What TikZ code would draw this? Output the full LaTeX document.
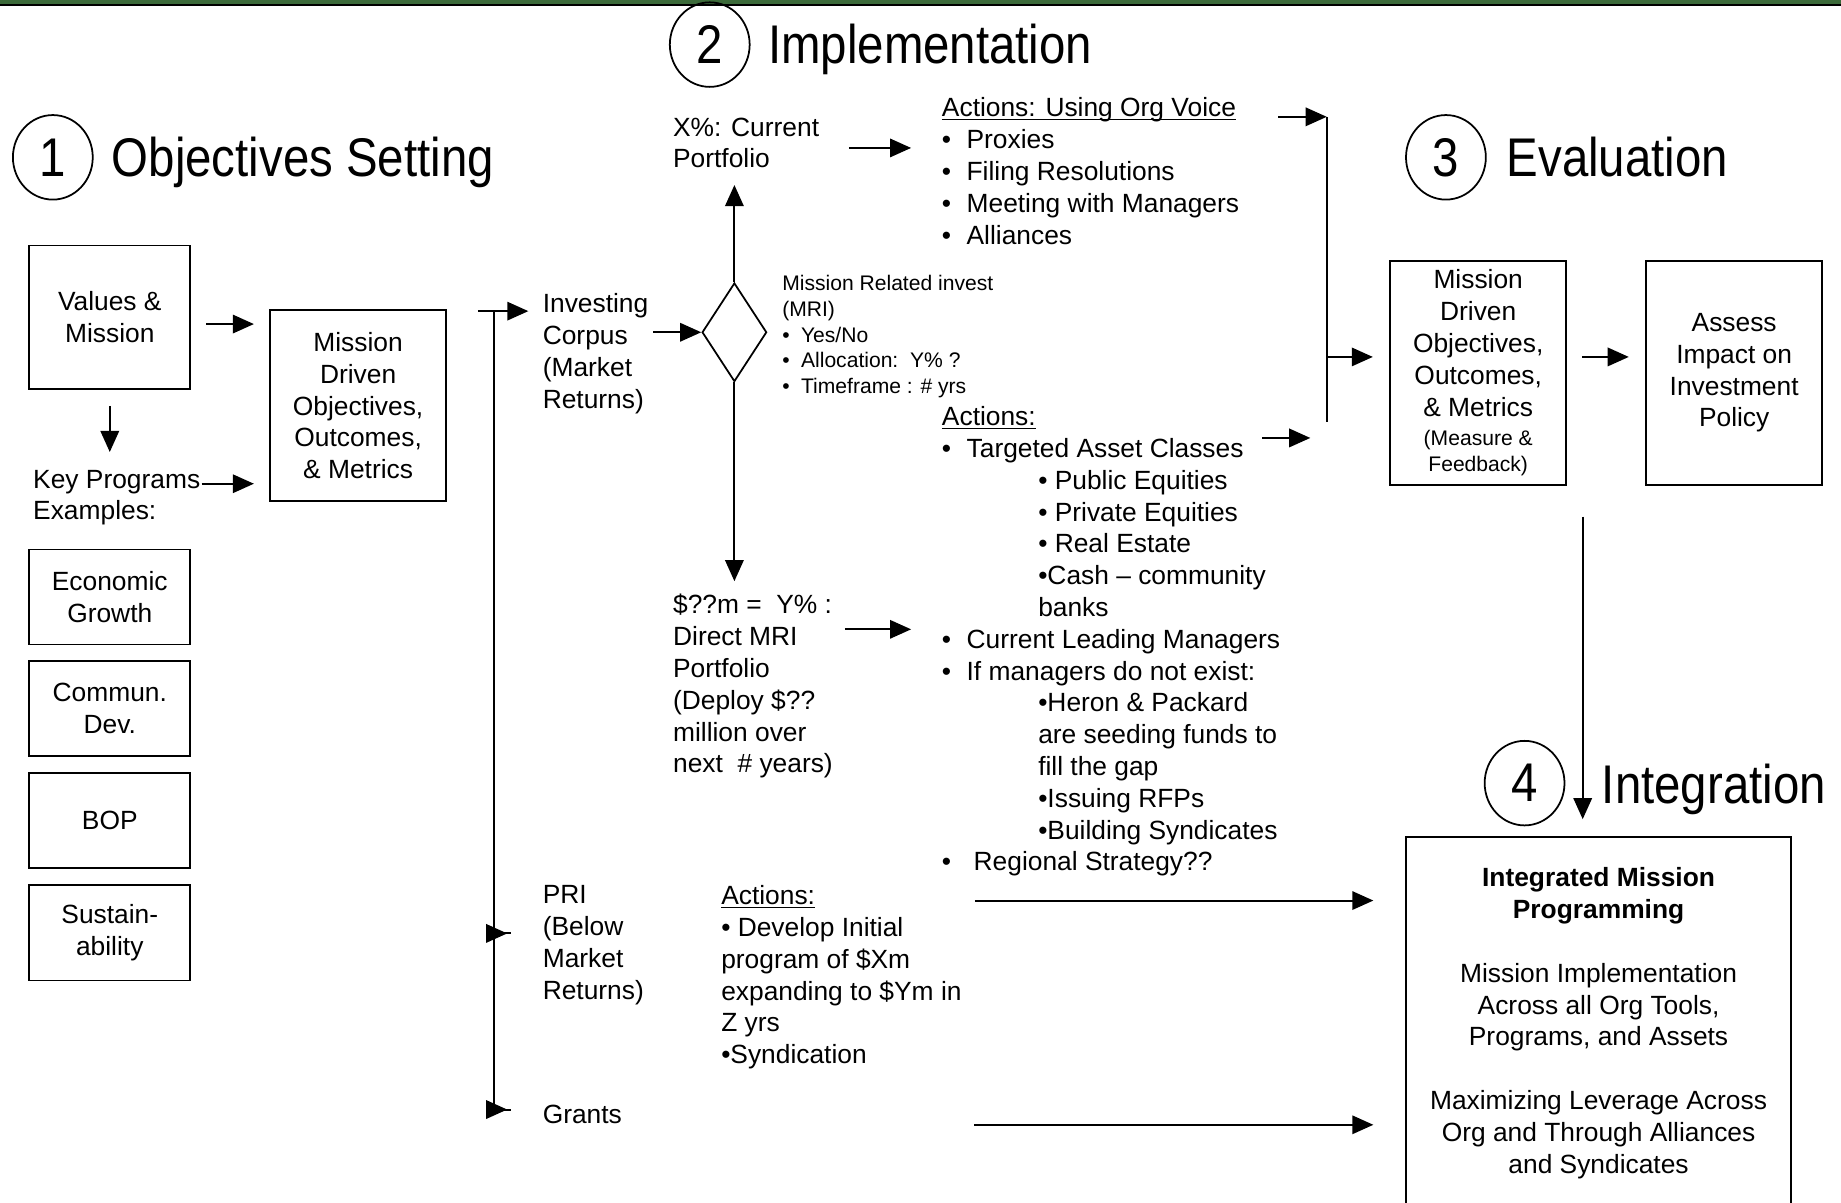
\documentclass[tikz,border=0pt]{standalone}
\usepackage{fontspec}
\setmainfont{Liberation Sans}
\usepackage{graphicx}
\usetikzlibrary{arrows.meta, shapes.geometric}

\newlength{\pxu}
\setlength{\pxu}{0.02348cm}
\definecolor{bargreen}{RGB}{60,106,58}
\newcommand{\bodyf}{\fontsize{15}{18.1}\selectfont}
\newcommand{\smallf}{\fontsize{12}{14.6}\selectfont}
\newcommand{\titlef}{\fontsize{31}{36}\selectfont}
\newcommand{\squash}[1]{\scalebox{0.87}[1]{#1}}
\newcommand{\ulin}[1]{\underline{\raisebox{0pt}[\height][0pt]{#1}}}
\newcommand{\blt}[1]{\makebox[#1\pxu][l]{•}}

\begin{document}
\begin{tikzpicture}[x=0.02348cm, y=-0.02348cm,
  box/.style={draw, line width=1pt, align=center, font=\bodyf, inner sep=0pt},
  txt/.style={align=left, font=\bodyf, inner sep=0pt, anchor=north west},
  stxt/.style={align=left, font=\smallf, inner sep=0pt, anchor=north west},
  numc/.style={draw, ellipse, line width=1pt, minimum width=68\pxu,
    minimum height=72\pxu, inner sep=0pt, font=\titlef},
  ttl/.style={font=\titlef, anchor=base west, inner sep=0pt},
  arr/.style={-{Triangle[length=12pt, width=10.5pt]}, line width=1.1pt},
  gap/.style 2 args={shorten <=#1\pxu, shorten >=#2\pxu}]
  \useasboundingbox (0,0) rectangle (1568,1024);
  % top bar
  \fill[bargreen] (0,0) rectangle (1568,3.6);
  \draw[line width=1pt] (0,4.3) -- (1568,4.3);
  % ---------- headings ----------
  \node[numc] (num1) at (45,134) {\squash{1}};
  \node[ttl] (ttl1) at (95,150) {\squash{Objectives Setting}};
  \node[numc] (num2) at (604.5,38) {\squash{2}};
  \node[ttl] (ttl2) at (654,54) {\squash{Implementation}};
  \node[numc] (num3) at (1231.5,134) {\squash{3}};
  \node[ttl] (ttl3) at (1283,150) {\squash{Evaluation}};
  \node[numc] (num4) at (1298.5,667) {\squash{4}};
  \node[ttl] (ttl4) at (1364,684) {\squash{Integration}};
  % ---------- 1: objectives ----------
  \node[box, minimum width=137\pxu, minimum height=122\pxu] (vm)
    at (93.5,270) {Values \&\\Mission};
  \node[box, minimum width=150\pxu, minimum height=163\pxu] (mdo)
    at (305,345.5) {Mission\\Driven\\Objectives,\\Outcomes,\\\& Metrics};
  \node[txt] (keyp) at (28,400) {Key Programs\\Examples:};
  \foreach \y/\nm/\lbl in {508.5/econ/{Economic\\Growth}, 603.5/comm/{Commun.\\Dev.},
      699/bop/BOP, 794.5/sust/{Sustain-\\ability}}
    \node[box, minimum width=137\pxu, minimum height=81\pxu] (\nm) at (93.5,\y) {\lbl};
  \draw[arr, gap={13}{13}] (vm.east |- 0,276) -- (mdo.west |- 0,276);
  \draw[arr, gap={14}{15}] (vm.south) -- (vm.south |- keyp.north);
  \draw[arr, gap={1}{13}] (keyp.east |- 0,412) -- (mdo.west |- 0,412);
  % ---------- 2: implementation ----------
  \coordinate (sp1) at (421,265);
  \coordinate (sp2) at (421,795);
  \coordinate (sp3) at (421,945);
  \draw[line width=1.1pt] (sp1) -- (sp3);
  \node[txt] (corpus) at (462,250) {Investing\\Corpus\\(Market\\Returns)};
  \node[txt] (pri) at (462,754) {PRI\\(Below\\Market\\Returns)};
  \node[txt] (grants) at (462,941) {Grants};
  \draw[arr, gap={-14}{12}] (sp1) -- (sp1 -| corpus.west);
  \draw[arr, gap={-14}{30}] (sp2) -- (sp2 -| pri.west);
  \draw[arr, gap={-14}{30}] (sp3) -- (sp3 -| grants.west);

  \node[draw, diamond, line width=1pt, minimum width=55\pxu, minimum height=84\pxu,
    inner sep=0pt] (dia) at (625.5,283) {};
  \draw[arr, gap={4}{0}] (corpus.east |- dia.west) -- (dia.west);
  \node[txt] (curr) at (573,100) {X\%: Current\\Portfolio};
  \node[txt] (direct) at (573,506)
    {\$??m =\ \ Y\% :\\Direct MRI\\Portfolio\\(Deploy \$??\\million over\\next\ \ \# years)};
  \draw[arr, gap={0}{14}] (dia.north) -- (dia.north |- curr.south);
  \draw[arr, gap={0}{11}] (dia.south) -- (dia.south |- direct.north);
  \node[stxt] (mri) at (666,234.5) {Mission Related invest\\(MRI)\\\blt{16}Yes/No\\
    \blt{16}Allocation:\ \ Y\% ?\\\blt{16}Timeframe : \# yrs};

  \node[txt] (voice) at (802,83) {\ulin{Actions: Using Org Voice}\\\blt{21}Proxies\\
    \blt{21}Filing Resolutions\\\blt{21}Meeting with Managers\\\blt{21}Alliances};
  \draw[arr, gap={25}{26}] (curr.east |- 0,126) -- (voice.west |- 0,126);

  \node[txt] (acts) at (802,346) {\ulin{Actions:}\\
    \blt{21}Targeted Asset Classes\\
    \hspace*{82\pxu}• Public Equities\\
    \hspace*{82\pxu}• Private Equities\\
    \hspace*{82\pxu}• Real Estate\\
    \hspace*{82\pxu}•Cash – community\\
    \hspace*{82\pxu}banks\\
    \blt{21}Current Leading Managers\\
    \blt{21}If managers do not exist:\\
    \hspace*{82\pxu}•Heron \& Packard\\
    \hspace*{82\pxu}are seeding funds to\\
    \hspace*{82\pxu}fill the gap\\
    \hspace*{82\pxu}•Issuing RFPs\\
    \hspace*{82\pxu}•Building Syndicates\\
    \blt{27}Regional Strategy??};
  \draw[arr, gap={10}{26}] (direct.east |- 0,536) -- (acts.west |- 0,536);
  \coordinate (tacS) at (1075,373);
  \coordinate (tacE) at (1116,373);
  \draw[arr] (tacS) -- (tacE);

  \node[txt] (priact) at (614,754) {\ulin{Actions:}\\• Develop Initial\\program of \$Xm\\
    expanding to \$Ym in\\Z yrs\\•Syndication};
  % ---------- 3: evaluation ----------
  \node[box, minimum width=150\pxu, minimum height=191\pxu] (mde) at (1259,317.5)
    {Mission\\Driven\\Objectives,\\Outcomes,\\\& Metrics\\[-1.4pt]{\smallf (Measure \&}\\[-3.4pt]{\smallf Feedback)}};
  \node[box, minimum width=150\pxu, minimum height=191\pxu] (assess) at (1477,317.5)
    {Assess\\Impact on\\Investment\\Policy};
  \coordinate (jtop) at (1130,99.5);
  \coordinate (jmid) at (1130,304);
  \coordinate (jbot) at (1130,359.5);
  \draw[arr, gap={33}{0}] (voice.east |- jtop) -- (jtop);
  \draw[line width=1.1pt] (jtop) -- (jbot);
  \draw[arr, gap={0}{14}] (jmid) -- (jmid -| mde.west);
  \draw[arr, gap={13}{14}] (mde.east |- 0,304) -- (assess.west |- 0,304);
  % ---------- 4: integration ----------
  \node[minimum width=327\pxu, minimum height=317\pxu, align=center, font=\bodyf,
    inner sep=0pt] (imp) at (1361.5,871.5)
    {\textbf{Integrated Mission}\\\textbf{Programming}\\[18.1pt]Mission Implementation\\
     Across all Org Tools,\\Programs, and Assets\\[18.1pt]Maximizing Leverage Across\\
     Org and Through Alliances\\and Syndicates};
  \draw[line width=1pt] (imp.south west) -- (imp.north west) -- (imp.north east)
    -- (imp.south east);
  \coordinate (evout) at (1348,440);
  \draw[arr, gap={0}{15}] (evout) -- (evout |- imp.north);
  \draw[arr, gap={11}{28}] (priact.east |- 0,767) -- (imp.west |- 0,767);
  \draw[arr, gap={300}{28}] (grants.east |- 0,958) -- (imp.west |- 0,958);
\end{tikzpicture}
\end{document}
